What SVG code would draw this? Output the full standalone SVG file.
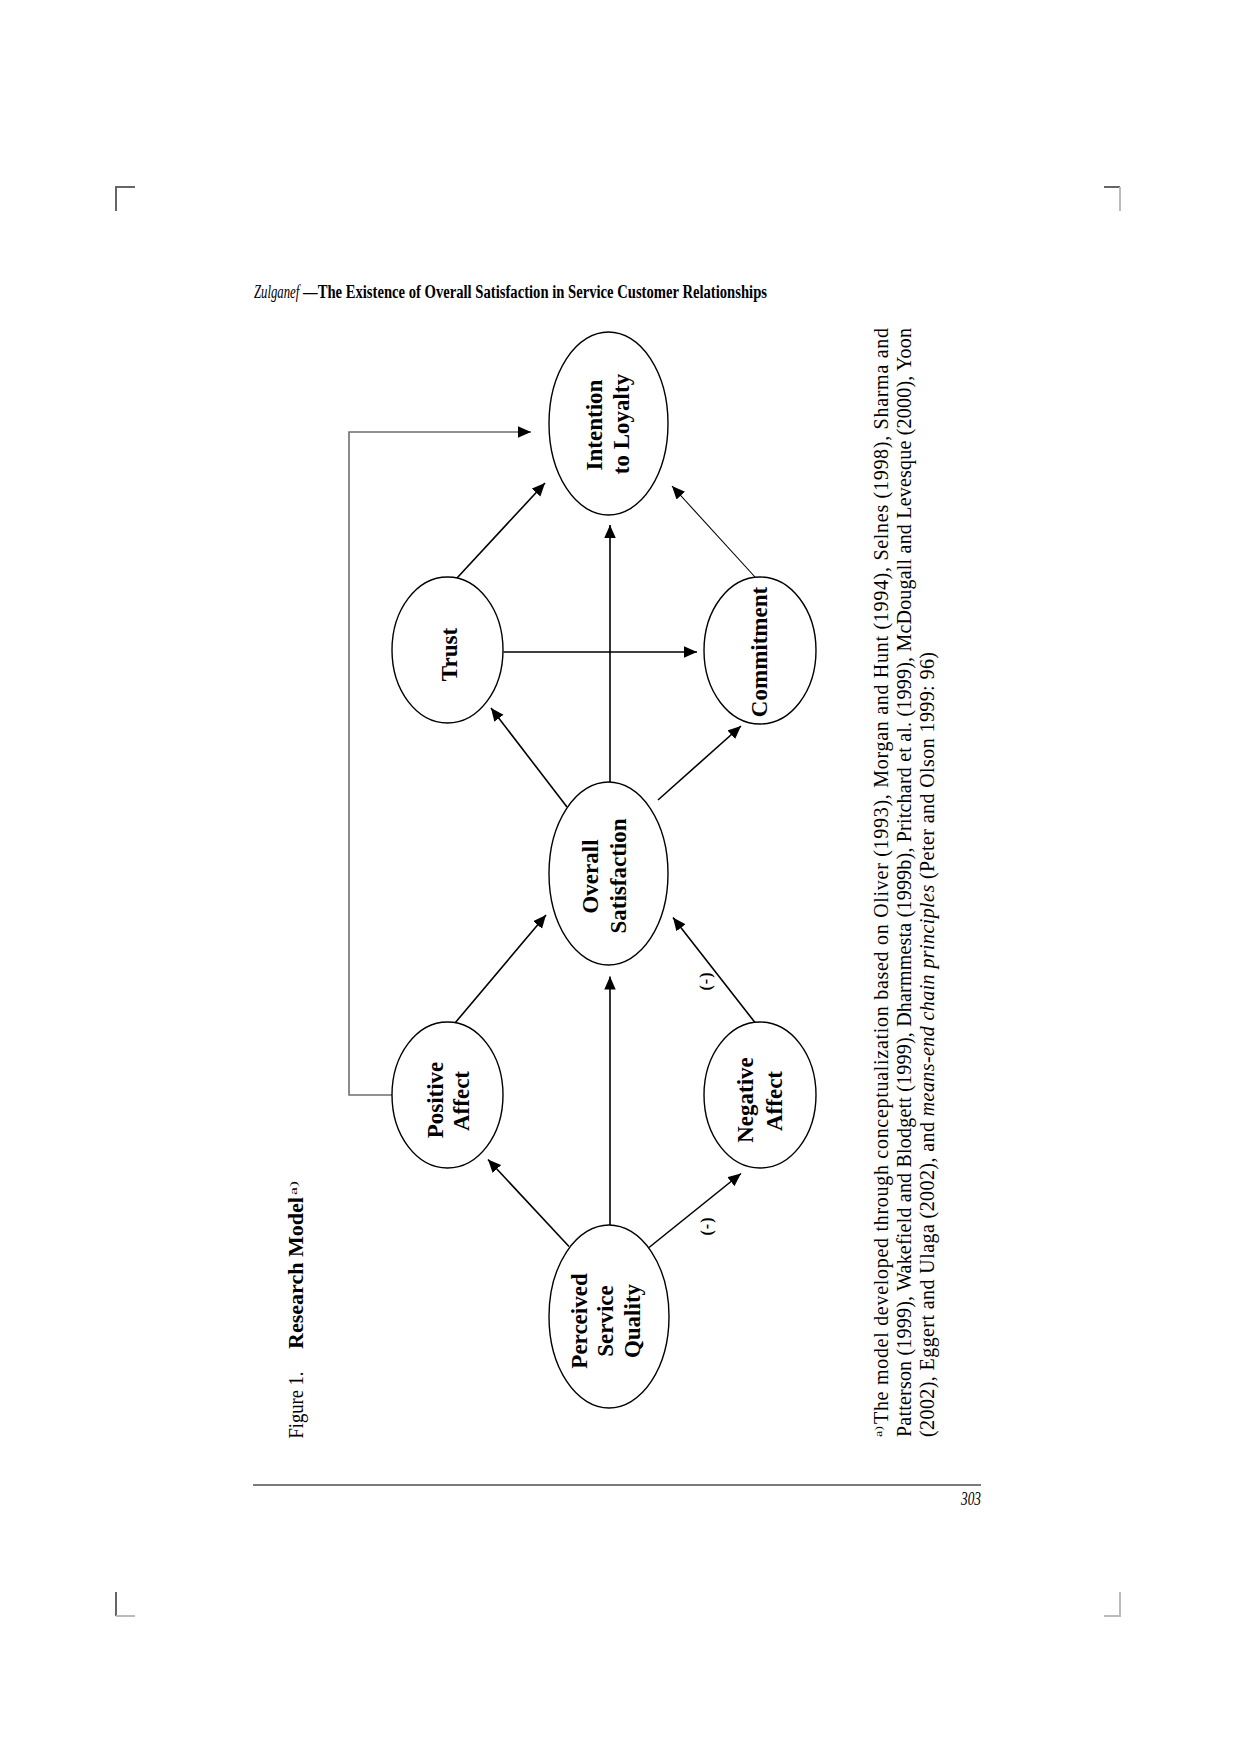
<svg xmlns="http://www.w3.org/2000/svg" width="1240" height="1753" viewBox="0 0 1240 1753">
<style>
.bg{fill:#ffffff}
.ell{fill:#ffffff;stroke:#000;stroke-width:1.4}
.nt{font-family:"Liberation Serif","Times New Roman",serif;font-weight:bold;font-size:23px;text-anchor:middle;fill:#000}
.edge{fill:none;stroke:#000;stroke-width:1.6}
.thin{fill:none;stroke:#000;stroke-width:1.1}
.fb{fill:none;stroke:#6e6e6e;stroke-width:1.6}
.neg{font-family:"Liberation Serif","Times New Roman",serif;font-weight:bold;font-size:16px;letter-spacing:1px;text-anchor:middle;fill:#000}
.cap{font-family:"Liberation Serif","Times New Roman",serif;font-size:20px;fill:#000}
.fn{font-family:"Liberation Serif","Times New Roman",serif;font-size:20px;fill:#000}
.sup{font-family:"Liberation Serif","Times New Roman",serif;font-size:11px;fill:#000}
.hd{font-family:"Liberation Serif","Times New Roman",serif;font-size:19px;fill:#000}
.mark{stroke-width:2;fill:none}
</style>
<defs>
<marker id="arr" markerUnits="userSpaceOnUse" markerWidth="13" markerHeight="12" refX="13" refY="5.75" orient="auto">
<path d="M0,0 L13,5.75 L0,11.5 z" fill="#000"/>
</marker>
</defs>
<rect class="bg" x="0" y="0" width="1240" height="1753"/>

<g id="page-marks">
<path class="mark" stroke="#666" d="M116,211 L116,187 L135,187"/>
<path class="mark" stroke="#666" d="M1104,187 L1120,187"/>
<path class="mark" stroke="#bbb" d="M1120,187 L1120,211"/>
<path class="mark" stroke="#666" d="M116,1592 L116,1616"/>
<path class="mark" stroke="#bbb" d="M116,1616 L135,1616"/>
<path class="mark" stroke="#bbb" d="M1120,1592 L1120,1616 L1104,1616"/>
<line x1="253" y1="1485" x2="981" y2="1485" stroke="#7a7a7a" stroke-width="2.2"/>
<text class="hd" x="981" y="1505" text-anchor="end" font-style="italic" font-size="17" textLength="20" lengthAdjust="spacingAndGlyphs">303</text>
</g>

<g id="header">
<text class="hd" transform="translate(254,298) scale(0.67,1)" font-style="italic">Zulganef</text>
<text class="hd" transform="translate(303,298) scale(0.74,1)" font-weight="bold" textLength="627" lengthAdjust="spacingAndGlyphs">—The Existence of Overall Satisfaction in Service Customer Relationships</text>
</g>

<g id="caption">
<text class="cap" transform="translate(303,1438.5) rotate(-90)" textLength="67" lengthAdjust="spacingAndGlyphs">Figure 1.</text>
<text class="cap" transform="translate(303,1349) rotate(-90)" font-weight="bold" textLength="152" lengthAdjust="spacingAndGlyphs">Research Model</text>
<text class="sup" transform="translate(297,1195) rotate(-90)" textLength="14" lengthAdjust="spacingAndGlyphs">a)</text>
</g>

<g id="connectors">
<polyline class="fb" points="392,1095 349,1095 349,432 531,432" marker-end="url(#arr)"/>
<line class="edge" x1="569" y1="1246.5" x2="488" y2="1159.5" marker-end="url(#arr)"/>
<line class="edge" x1="610" y1="1225" x2="610" y2="976.5" marker-end="url(#arr)"/>
<line class="edge" x1="649" y1="1247.5" x2="741" y2="1173.5" marker-end="url(#arr)"/>
<line class="edge" x1="455" y1="1023" x2="546" y2="915" marker-end="url(#arr)"/>
<line class="edge" x1="755" y1="1022.5" x2="673" y2="917.5" marker-end="url(#arr)"/>
<line class="edge" x1="567" y1="807" x2="491" y2="708" marker-end="url(#arr)"/>
<line class="edge" x1="610" y1="782" x2="610" y2="525" marker-end="url(#arr)"/>
<line class="edge" x1="658" y1="800" x2="741" y2="726" marker-end="url(#arr)"/>
<line class="edge" x1="503.5" y1="652" x2="697" y2="652" marker-end="url(#arr)"/>
<line class="edge" x1="457" y1="578" x2="545" y2="483" marker-end="url(#arr)"/>
<line class="thin" x1="755" y1="577" x2="672" y2="486" marker-end="url(#arr)"/>
<text class="neg" transform="translate(711,981) rotate(-90)">(-)</text>
<text class="neg" transform="translate(712,1226) rotate(-90)">(-)</text>
</g>

<g id="node-intention">
<ellipse class="ell" cx="608.5" cy="423.5" rx="59.5" ry="91.5"/>
<text class="nt" transform="translate(602,425) rotate(-90)">Intention</text>
<text class="nt" transform="translate(629,424) rotate(-90)">to Loyalty</text>
</g>

<g id="node-trust">
<ellipse class="ell" cx="447.5" cy="650" rx="55.5" ry="73"/>
<text class="nt" transform="translate(457,654.5) rotate(-90)">Trust</text>
</g>

<g id="node-commitment">
<ellipse class="ell" cx="760" cy="650.5" rx="56" ry="73.5"/>
<text class="nt" transform="translate(767,652) rotate(-90)">Commitment</text>
</g>

<g id="node-overall">
<ellipse class="ell" cx="608.5" cy="873.5" rx="59.5" ry="91.5"/>
<text class="nt" transform="translate(598,876.5) rotate(-90)">Overall</text>
<text class="nt" transform="translate(626,876) rotate(-90)">Satisfaction</text>
</g>

<g id="node-positive">
<ellipse class="ell" cx="447.5" cy="1095" rx="55.5" ry="73"/>
<text class="nt" transform="translate(443,1100) rotate(-90)">Positive</text>
<text class="nt" transform="translate(469,1101) rotate(-90)">Affect</text>
</g>

<g id="node-negative">
<ellipse class="ell" cx="760" cy="1095" rx="56" ry="73"/>
<text class="nt" transform="translate(753,1100) rotate(-90)">Negative</text>
<text class="nt" transform="translate(782,1101) rotate(-90)">Affect</text>
</g>

<g id="node-psq">
<ellipse class="ell" cx="609" cy="1316.5" rx="60" ry="91.5"/>
<text class="nt" transform="translate(587,1321) rotate(-90)">Perceived</text>
<text class="nt" transform="translate(613,1321) rotate(-90)">Service</text>
<text class="nt" transform="translate(640,1321) rotate(-90)">Quality</text>
</g>

<g id="footnote">
<text class="sup" transform="translate(882,1437) rotate(-90)" textLength="11" lengthAdjust="spacingAndGlyphs">a)</text>
<text class="fn" transform="translate(888,1424) rotate(-90)" textLength="1096" lengthAdjust="spacing">The model developed through conceptualization based on Oliver (1993), Morgan and Hunt (1994), Selnes (1998), Sharma and</text>
<text class="fn" transform="translate(911,1437) rotate(-90)" textLength="1109" lengthAdjust="spacing">Patterson (1999), Wakefield and Blodgett (1999), Dharmmesta (1999b), Pritchard et al. (1999), McDougall and Levesque (2000), Yoon</text>
<text class="fn" transform="translate(934,1437) rotate(-90)" textLength="785" lengthAdjust="spacing">(2002), Eggert and Ulaga (2002), and  <tspan font-style="italic">means-end chain principles</tspan> (Peter and Olson 1999: 96)</text>
</g>
</svg>
